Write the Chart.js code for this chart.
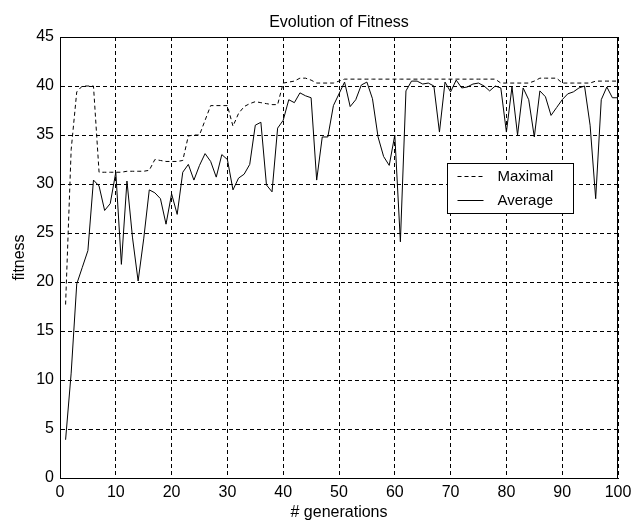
<!DOCTYPE html>
<html>
<head>
<meta charset="utf-8">
<title>Evolution of Fitness</title>
<script src="https://cdn.jsdelivr.net/npm/chart.js@4.4.1/dist/chart.umd.min.js"></script>
<style>
  html, body { margin: 0; padding: 0; background: #fff; }
  #wrap { width: 638px; height: 525px; }
</style>
</head>
<body>
<div id="wrap"><canvas id="fitnessChart" width="638" height="525"></canvas></div>
<script>
// generation number on the x axis
const generations = [
  1, 2, 3, 4, 5, 6, 7, 8, 9, 10,
  11, 12, 13, 14, 15, 16, 17, 18, 19, 20,
  21, 22, 23, 24, 25, 26, 27, 28, 29, 30,
  31, 32, 33, 34, 35, 36, 37, 38, 39, 40,
  41, 42, 43, 44, 45, 46, 47, 48, 49, 50,
  51, 52, 53, 54, 55, 56, 57, 58, 59, 60,
  61, 62, 63, 64, 65, 66, 67, 68, 69, 70,
  71, 72, 73, 74, 75, 76, 77, 78, 79, 80,
  81, 82, 83, 84, 85, 86, 87, 88, 89, 90,
  91, 92, 93, 94, 95, 96, 97, 98, 99, 100
];

// best fitness per generation (dashed line)
const maximal = [
  17.7, 33.5, 39.4, 40.0, 40.0, 40.0, 31.2, 31.2, 31.2, 31.2,
  31.2, 31.3, 31.3, 31.3, 31.3, 31.4, 32.5, 32.4, 32.3, 32.3,
  32.3, 32.4, 34.9, 35.0, 35.0, 36.5, 38.0, 38.0, 38.0, 38.0,
  35.9, 37.2, 37.9, 38.2, 38.4, 38.3, 38.2, 38.1, 38.1, 40.3,
  40.4, 40.5, 40.8, 40.8, 40.6, 40.3, 40.3, 40.3, 40.3, 40.5,
  40.7, 40.7, 40.7, 40.7, 40.7, 40.7, 40.7, 40.7, 40.7, 40.7,
  40.7, 40.7, 40.7, 40.7, 40.7, 40.7, 40.7, 40.7, 40.7, 40.7,
  40.7, 40.7, 40.7, 40.7, 40.7, 40.7, 40.7, 40.7, 40.3, 40.3,
  40.3, 40.3, 40.3, 40.3, 40.5, 40.8, 40.8, 40.8, 40.8, 40.3,
  40.3, 40.3, 40.3, 40.3, 40.3, 40.5, 40.5, 40.5, 40.5, 40.5
];

// mean fitness per generation (solid line)
const average = [
  3.9, 10.7, 19.8, 21.5, 23.2, 30.4, 29.8, 27.3, 28.0, 31.2,
  21.8, 30.3, 24.5, 20.1, 24.4, 29.4, 29.1, 28.5, 25.9, 29.0,
  26.9, 31.2, 32.0, 30.4, 31.9, 33.1, 32.3, 30.7, 33.0, 32.5,
  29.4, 30.6, 31.0, 32.0, 36.0, 36.3, 29.9, 29.2, 35.7, 36.5,
  38.6, 38.3, 39.3, 39.0, 38.8, 30.4, 34.8, 34.8, 38.0, 39.2,
  40.4, 37.9, 38.6, 40.1, 40.4, 38.7, 34.8, 32.8, 31.9, 35.0,
  24.1, 39.5, 40.5, 40.5, 40.2, 40.3, 40.0, 35.3, 40.4, 39.4,
  40.6, 39.8, 39.9, 40.2, 40.3, 40.0, 39.5, 40.0, 39.8, 35.3,
  39.9, 35.0, 39.8, 38.6, 34.8, 39.5, 38.9, 37.0, 37.8, 38.6,
  39.2, 39.4, 39.8, 40.0, 36.0, 28.5, 38.6, 39.9, 38.8, 38.8
];

const seriesLabels = ["Maximal", "Average"];

const FONT = "'Liberation Sans', Arial, sans-serif";
const GRID_DASH = [4, 3];

function toPoints(values) {
    return values.map((v, i) => ({ x: generations[i], y: v }));
}

// Box round the whole axes area (MATLAB style)
const frame = {
    id: 'frame',
    afterDatasetsDraw(chart) {
        const { ctx, chartArea: a } = chart;
        ctx.save();
        ctx.strokeStyle = '#000';
        ctx.lineWidth = 1;
        ctx.strokeRect(Math.round(a.left) + 0.5, Math.round(a.top) + 0.5,
            Math.round(a.right - a.left) - 1, Math.round(a.bottom - a.top));
        ctx.restore();
    }
};

// Legend sitting inside the plot, anchored at a data position
const insideLegend = {
    id: 'insideLegend',
    afterDraw(chart, args, opts) {
        const { ctx, scales: { x, y } } = chart;
        const left = Math.round(x.getPixelForValue(opts.atX)) + 0.5;
        const top = Math.round(y.getPixelForValue(opts.atY)) + 0.5;

        ctx.save();
        ctx.fillStyle = '#fff';
        ctx.fillRect(left, top, opts.width, opts.height);
        ctx.strokeStyle = '#000';
        ctx.lineWidth = 1;
        ctx.strokeRect(left, top, opts.width, opts.height);

        ctx.font = opts.font;
        ctx.textBaseline = 'middle';
        ctx.textAlign = 'left';
        chart.data.datasets.forEach((ds, i) => {
            const rowY = Math.round(top + opts.firstRow + i * opts.rowGap) + 0.5;
            ctx.beginPath();
            ctx.setLineDash(ds.borderDash || []);
            ctx.moveTo(left + 10, rowY);
            ctx.lineTo(left + 36, rowY);
            ctx.strokeStyle = ds.borderColor;
            ctx.stroke();
            ctx.setLineDash([]);
            ctx.fillStyle = '#000';
            ctx.fillText(ds.label, left + 50, rowY);
        });
        ctx.restore();
    }
};

const ctx = document.getElementById('fitnessChart').getContext('2d');

new Chart(ctx, {
    type: 'line',
    data: {
        datasets: [
            {
                label: seriesLabels[0],
                data: toPoints(maximal),
                xAxisID: 'x',
                borderColor: '#000',
                borderWidth: 1,
                borderDash: [4, 3],
                pointRadius: 0,
                tension: 0,
                fill: false
            },
            {
                label: seriesLabels[1],
                data: toPoints(average),
                xAxisID: 'x',
                borderColor: '#000',
                borderWidth: 1,
                pointRadius: 0,
                tension: 0,
                fill: false
            }
        ]
    },
    options: {
        responsive: false,
        animation: false,
        devicePixelRatio: 1,
        layout: { padding: { left: 0, right: 20, top: 0, bottom: 0 } },
        plugins: {
            legend: { display: false },
            tooltip: { enabled: false },
            insideLegend: {
                atX: 69.4,
                atY: 32.1,
                width: 126,
                height: 50,
                firstRow: 12.5,
                rowGap: 24,
                font: "15px " + FONT
            }
        },
        scales: {
            x: {
                type: 'linear',
                min: 0,
                max: 100,
                ticks: {
                    stepSize: 10,
                    color: '#000',
                    padding: 5,
                    maxRotation: 0,
                    font: { family: FONT, size: 16 }
                },
                grid: { color: '#000', drawTicks: false, lineWidth: 1 },
                border: { display: true, color: '#000', dash: GRID_DASH },
                title: {
                    display: true,
                    text: '# generations',
                    color: '#000',
                    font: { family: FONT, size: 16 },
                    padding: { top: 0, bottom: 3 }
                },
                afterFit(scale) { scale.height = 47; }
            },
            // top axis only carries the title, so it centres over the plot
            x2: {
                type: 'linear',
                position: 'top',
                min: 0,
                max: 100,
                ticks: { display: false },
                grid: { display: false, drawTicks: false },
                border: { display: false },
                title: {
                    display: true,
                    text: 'Evolution of Fitness',
                    color: '#000',
                    font: { family: FONT, size: 16 },
                    padding: { top: 13, bottom: 0 }
                },
                afterFit(scale) { scale.height = 37; }
            },
            y: {
                min: 0,
                max: 45,
                ticks: {
                    stepSize: 5,
                    color: '#000',
                    padding: 6,
                    font: { family: FONT, size: 16 }
                },
                grid: { color: '#000', drawTicks: false, lineWidth: 1 },
                border: { display: true, color: '#000', dash: GRID_DASH },
                title: {
                    display: true,
                    text: 'fitness',
                    color: '#000',
                    font: { family: FONT, size: 16 },
                    padding: { top: 10, bottom: 0 }
                },
                afterFit(scale) { scale.width = 60; }
            }
        }
    },
    plugins: [frame, insideLegend]
});
</script>
</body>
</html>
